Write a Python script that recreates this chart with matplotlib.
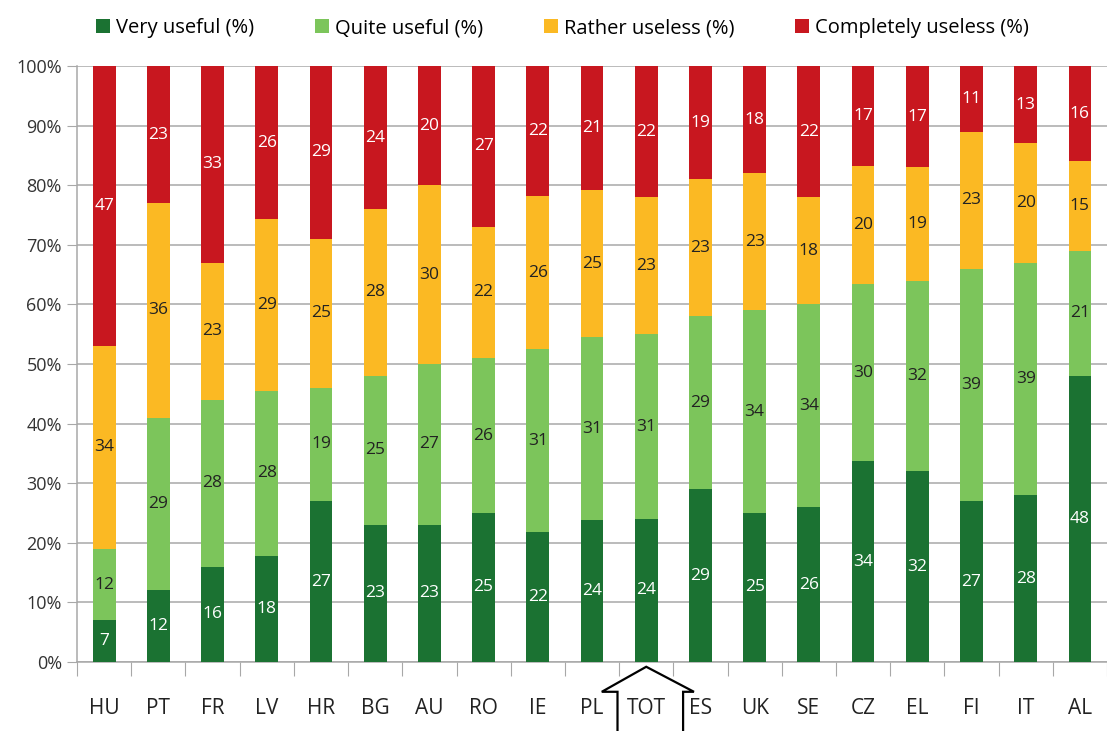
import numpy as np
import matplotlib.pyplot as plt
from matplotlib.patches import Polygon

plt.rcParams['font.family'] = ['Open Sans', 'DejaVu Sans']

# Data (percent)
countries = ['HU', 'PT', 'FR', 'LV', 'HR', 'BG', 'AU', 'RO', 'IE', 'PL',
             'TOT', 'ES', 'UK', 'SE', 'CZ', 'EL', 'FI', 'IT', 'AL']
very_useful = [7, 12, 16, 18, 27, 23, 23, 25, 22, 24, 24, 29, 25, 26, 34, 32, 27, 28, 48]
quite_useful = [12, 29, 28, 28, 19, 25, 27, 26, 31, 31, 31, 29, 34, 34, 30, 32, 39, 39, 21]
rather_useless = [34, 36, 23, 29, 25, 28, 30, 22, 26, 25, 23, 23, 23, 18, 20, 19, 23, 20, 15]
completely_useless = [47, 23, 33, 26, 29, 24, 20, 27, 22, 21, 22, 19, 18, 22, 17, 17, 11, 13, 16]

series = [very_useful, quite_useful, rather_useless, completely_useless]
names = ['Very useful (%)', 'Quite useful (%)', 'Rather useless (%)', 'Completely useless (%)']
colors = ['#1b7232', '#7cc55b', '#fbb923', '#c8171f']
text_colors = ['white', '#222222', '#222222', 'white']

data = np.array(series, dtype=float)
shares = data / data.sum(axis=0) * 100

fig = plt.figure(figsize=(11.07, 7.31), dpi=100)
ax = fig.add_axes([0.0696, 0.0944, 0.9304, 0.8153])

x = np.arange(len(countries))
bottom = np.zeros(len(countries))
for vals, share, name, col, tcol in zip(data, shares, names, colors, text_colors):
    ax.bar(x, share, bottom=bottom, width=0.42, color=col, label=name, zorder=3)
    for xi, b, s, v in zip(x, bottom, share, vals):
        ax.text(xi, b + s / 2, f'{int(v)}', ha='center', va='center',
                color=tcol, fontsize=12.5, zorder=4)
    bottom += share

ax.set_xlim(-0.5, len(countries) - 0.5)
ax.set_ylim(0, 100)
ax.set_yticks(np.arange(0, 101, 10))
ax.set_yticklabels([f'{v}%' for v in range(0, 101, 10)], fontsize=13, color='#333333')
ax.yaxis.grid(True, color='#a8a8a8', linewidth=1.1, zorder=0)
ax.tick_params(axis='y', length=7, color='#a8a8a8', pad=4)

# category labels, tick marks at the boundaries
ax.set_xticks(np.arange(-0.5, len(countries), 1))
ax.set_xticklabels([])
ax.set_xticks(x, minor=True)
ax.set_xticklabels(countries, minor=True, fontsize=15, color='#222222')
ax.tick_params(axis='x', which='major', length=10, color='#a8a8a8')
ax.tick_params(axis='x', which='minor', length=0, pad=26)

for side in ['top', 'right']:
    ax.spines[side].set_visible(False)
for side in ['left', 'bottom']:
    ax.spines[side].set_color('#a8a8a8')
    ax.spines[side].set_linewidth(1.1)

# arrow outline around TOT
tot = countries.index('TOT')
trans = ax.get_xaxis_transform()
arrow = [(tot - 0.53, -0.12), (tot - 0.53, -0.05), (tot - 0.82, -0.05), (tot, -0.008),
         (tot + 0.88, -0.05), (tot + 0.68, -0.05), (tot + 0.68, -0.12)]
ax.add_patch(Polygon(arrow, closed=False, fill=False, edgecolor='black',
                     linewidth=1.6, transform=trans, clip_on=False))

fig.legend(loc='upper center', bbox_to_anchor=(0.508, 1.0), ncol=4, frameon=False,
           fontsize=14.5, handlelength=0.7, handleheight=0.7, handletextpad=0.3,
           columnspacing=3.0)

fig.savefig('out.png', dpi=100)
